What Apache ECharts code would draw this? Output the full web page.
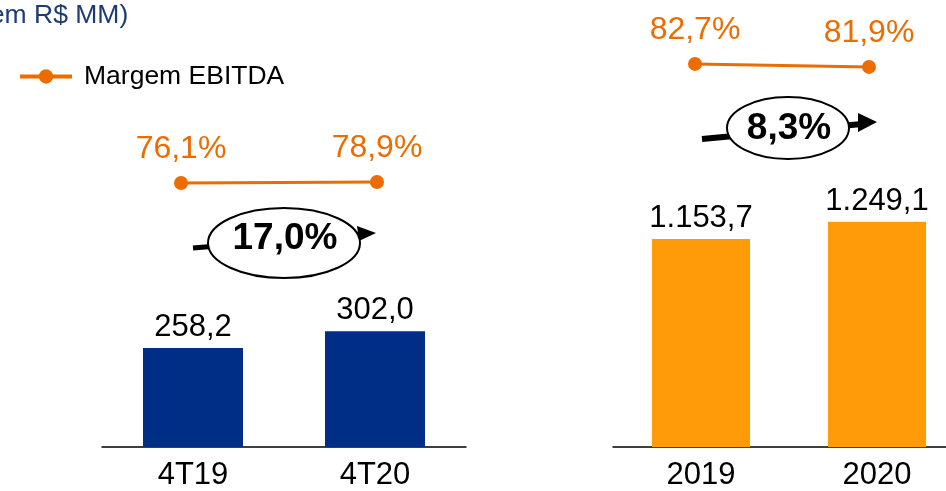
<!DOCTYPE html>
<html>
<head>
<meta charset="utf-8">
<script src="https://cdn.jsdelivr.net/npm/echarts@6/dist/echarts.min.js"></script>
<style>
  html, body { margin: 0; padding: 0; background: #fff; }
  #chart { width: 946px; height: 491px; }
</style>
</head>
<body>
<div id="chart"></div>
<script>
// dados
const quarterCats = ['4T19', '4T20']
const quarterEbitda = [258.2, 302.0]
const quarterMargin = [76.1, 78.9]
const quarterGrowth = '17,0%'

const yearCats = ['2019', '2020']
const yearEbitda = [1153.7, 1249.1]
const yearMargin = [82.7, 81.9]
const yearGrowth = '8,3%'

const navy = '#002E87'
const orangeBar = '#FF9A08'
const orangeLine = '#EC6C00'
const font = 'Liberation Sans, Arial, sans-serif'

// formato brasileiro: 1.153,7
function fmtNum(v) {
  const parts = v.toFixed(1).split('.')
  const intPart = parts[0].replace(/\B(?=(\d{3})+(?!\d))/g, '.')
  return intPart + ',' + parts[1]
}
function fmtPct(v) {
  return v.toFixed(1).replace('.', ',') + '%'
}

const catAxis = (idx, data) => ({
  type: 'category',
  gridIndex: idx,
  data: data,
  axisTick: { show: false },
  axisLine: { lineStyle: { color: '#000', width: 1.5 } },
  axisLabel: { color: '#000', fontSize: 31, fontFamily: font, margin: 13 }
})

const hiddenCat = (idx, data) => ({
  type: 'category',
  gridIndex: idx,
  data: data,
  boundaryGap: false,
  show: false
})

const hiddenVal = (idx, min, max) => ({
  type: 'value',
  gridIndex: idx,
  min: min,
  max: max,
  show: false,
  splitLine: { show: false }
})

const lineLabel = {
  show: true,
  position: 'top',
  distance: 11,
  color: orangeLine,
  fontSize: 32,
  fontFamily: font,
  formatter: p => fmtPct(p.value)
}

const barLabel = {
  show: true,
  position: 'top',
  distance: 5,
  color: '#000',
  fontSize: 31,
  fontFamily: font,
  formatter: p => fmtNum(p.value)
}

const chart = echarts.init(document.getElementById('chart'))

const option = {
  animation: false,
  backgroundColor: '#fff',
  legend: {
    data: ['Margem EBITDA'],
    left: 13,
    top: 58,
    itemWidth: 52,
    itemHeight: 18,
    lineStyle: { width: 4 },
    textStyle: { color: '#000', fontSize: 26.5, fontFamily: font, padding: [0, 0, 0, 7] }
  },
  grid: [
    { left: 102, width: 364, top: 217, height: 230, outerBoundsMode: 'none' },
    { left: 613, width: 352, top: 86.4, height: 360.6, outerBoundsMode: 'none' },
    { left: 181, width: 196, top: 174.5, height: 14.3, outerBoundsMode: 'none' },
    { left: 695, width: 174, top: 55.3, height: 18.75, outerBoundsMode: 'none' }
  ],
  xAxis: [
    catAxis(0, quarterCats),
    catAxis(1, yearCats),
    hiddenCat(2, quarterCats),
    hiddenCat(3, yearCats)
  ],
  yAxis: [
    hiddenVal(0, 0, 600),
    hiddenVal(1, 0, 2000),
    hiddenVal(2, 60, 100),
    hiddenVal(3, 80, 85)
  ],
  series: [
    {
      name: 'EBITDA trimestre',
      type: 'bar',
      xAxisIndex: 0,
      yAxisIndex: 0,
      barWidth: 100,
      data: quarterEbitda,
      itemStyle: { color: navy },
      label: barLabel
    },
    {
      name: 'EBITDA ano',
      type: 'bar',
      xAxisIndex: 1,
      yAxisIndex: 1,
      barWidth: 98,
      data: yearEbitda,
      itemStyle: { color: orangeBar },
      label: barLabel
    },
    {
      name: 'Margem EBITDA',
      type: 'line',
      xAxisIndex: 2,
      yAxisIndex: 2,
      data: quarterMargin,
      symbol: 'circle',
      symbolSize: 14,
      lineStyle: { color: orangeLine, width: 3 },
      itemStyle: { color: orangeLine },
      label: lineLabel
    },
    {
      name: 'Margem EBITDA',
      type: 'line',
      xAxisIndex: 3,
      yAxisIndex: 3,
      data: yearMargin,
      symbol: 'circle',
      symbolSize: 14,
      lineStyle: { color: orangeLine, width: 3 },
      itemStyle: { color: orangeLine },
      label: lineLabel
    }
  ],
  graphic: [
    {
      type: 'text',
      x: -19,
      y: 16,
      style: {
        text: '(em R$ MM)',
        fill: '#1F3B76',
        font: '26.5px ' + font,
        verticalAlign: 'middle'
      }
    },
    // seta de crescimento 4T
    { type: 'line', shape: { x1: 193, y1: 248, x2: 362, y2: 234 }, style: { stroke: '#000', lineWidth: 5 } },
    { type: 'polygon', shape: { points: [[357, 226], [376, 233], [359, 241]] }, style: { fill: '#000' } },
    { type: 'ellipse', shape: { cx: 284, cy: 243, rx: 76, ry: 35 }, style: { fill: '#fff', stroke: '#000', lineWidth: 2 } },
    {
      type: 'text', x: 285, y: 239,
      style: { text: quarterGrowth, fill: '#000', font: 'bold 37px ' + font, align: 'center', verticalAlign: 'middle' }
    },
    // seta de crescimento anual
    { type: 'line', shape: { x1: 702, y1: 139, x2: 862, y2: 124 }, style: { stroke: '#000', lineWidth: 6 } },
    { type: 'polygon', shape: { points: [[858, 113], [877, 122], [858, 132]] }, style: { fill: '#000' } },
    { type: 'ellipse', shape: { cx: 788, cy: 128, rx: 61, ry: 31 }, style: { fill: '#fff', stroke: '#000', lineWidth: 2 } },
    {
      type: 'text', x: 789, y: 129,
      style: { text: yearGrowth, fill: '#000', font: 'bold 37px ' + font, align: 'center', verticalAlign: 'middle' }
    }
  ]
}

chart.setOption(option)
</script>
</body>
</html>
